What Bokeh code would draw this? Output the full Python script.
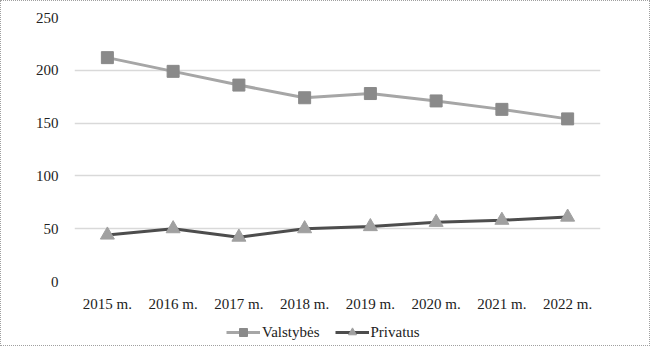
from bokeh.plotting import figure
from bokeh.layouts import column
from bokeh.models import FactorRange, Range1d, Legend, LegendItem, FixedTicker
from bokeh.embed import file_html
from bokeh.resources import INLINE

years = ["2015 m.", "2016 m.", "2017 m.", "2018 m.", "2019 m.", "2020 m.", "2021 m.", "2022 m."]
valstybes = [212, 199, 186, 174, 178, 171, 163, 154]
privatus = [44, 50, 42, 50, 52, 56, 58, 61]
y_ticks = [0, 50, 100, 150, 200, 250]
series_names = ["Valstybės", "Privatus"]

FONT = "Liberation Serif"
C1_LINE, C1_MARK = "#a6a6a6", "#8a8a8a"
C2_LINE, C2_MARK = "#4d4d4d", "#a0a0a0"

p = figure(width=648, height=313, x_range=FactorRange(*years, range_padding=0),
           y_range=Range1d(0, 250), output_backend="svg", toolbar_location=None,
           min_border_left=73, min_border_right=49, min_border_top=16, min_border_bottom=31)
p.outline_line_color = None
p.xgrid.grid_line_color = None
p.ygrid.grid_line_color = "#d9d9d9"
p.ygrid.grid_line_width = 1.5
p.yaxis.ticker = FixedTicker(ticks=y_ticks)
for ax in (p.xaxis[0], p.yaxis[0]):
    ax.axis_line_color = None
    ax.major_tick_line_color = None
    ax.minor_tick_line_color = None
    ax.major_label_text_font = FONT
    ax.major_label_text_font_size = "15px"
    ax.major_label_text_color = "#222222"
p.yaxis.major_label_standoff = 10
p.xaxis.major_label_standoff = 8

p.line(years, valstybes, line_color=C1_LINE, line_width=3)
p.scatter(years, valstybes, marker="square", size=12, fill_color=C1_MARK, line_color=C1_MARK)
p.line(years, privatus, line_color=C2_LINE, line_width=3)
p.scatter(years, privatus, marker="triangle", size=14, fill_color=C2_MARK, line_color=C2_MARK)

# legend strip below the chart (legend glyph samples only, no visible data)
NAN = [float("nan")]
lf = figure(width=648, height=31, x_range=Range1d(0, 1), y_range=Range1d(0, 1),
            output_backend="svg", toolbar_location=None, x_axis_type=None, y_axis_type=None,
            min_border=0)
lf.outline_line_color = None
lf.grid.visible = False
k1 = lf.line(NAN, NAN, line_color=C1_LINE, line_width=3)
m1 = lf.scatter(NAN, NAN, marker="square", size=12, fill_color=C1_MARK, line_color=C1_MARK)
k2 = lf.line(NAN, NAN, line_color=C2_LINE, line_width=3)
m2 = lf.scatter(NAN, NAN, marker="triangle", size=14, fill_color=C2_MARK, line_color=C2_MARK)
legend = Legend(items=[LegendItem(label=series_names[0], renderers=[k1, m1]),
                       LegendItem(label=series_names[1], renderers=[k2, m2])],
                orientation="horizontal", location=(152, 3),
                label_text_font=FONT, label_text_font_size="15px", label_text_color="#222222",
                glyph_width=34, spacing=15, label_standoff=2,
                padding=2, margin=0,
                background_fill_alpha=0, border_line_color=None)
lf.add_layout(legend, "center")

layout = column(p, lf, spacing=0, styles={"border": "1px dotted #a0a0a0"})

open("out.html", "w").write(file_html(layout, INLINE))
